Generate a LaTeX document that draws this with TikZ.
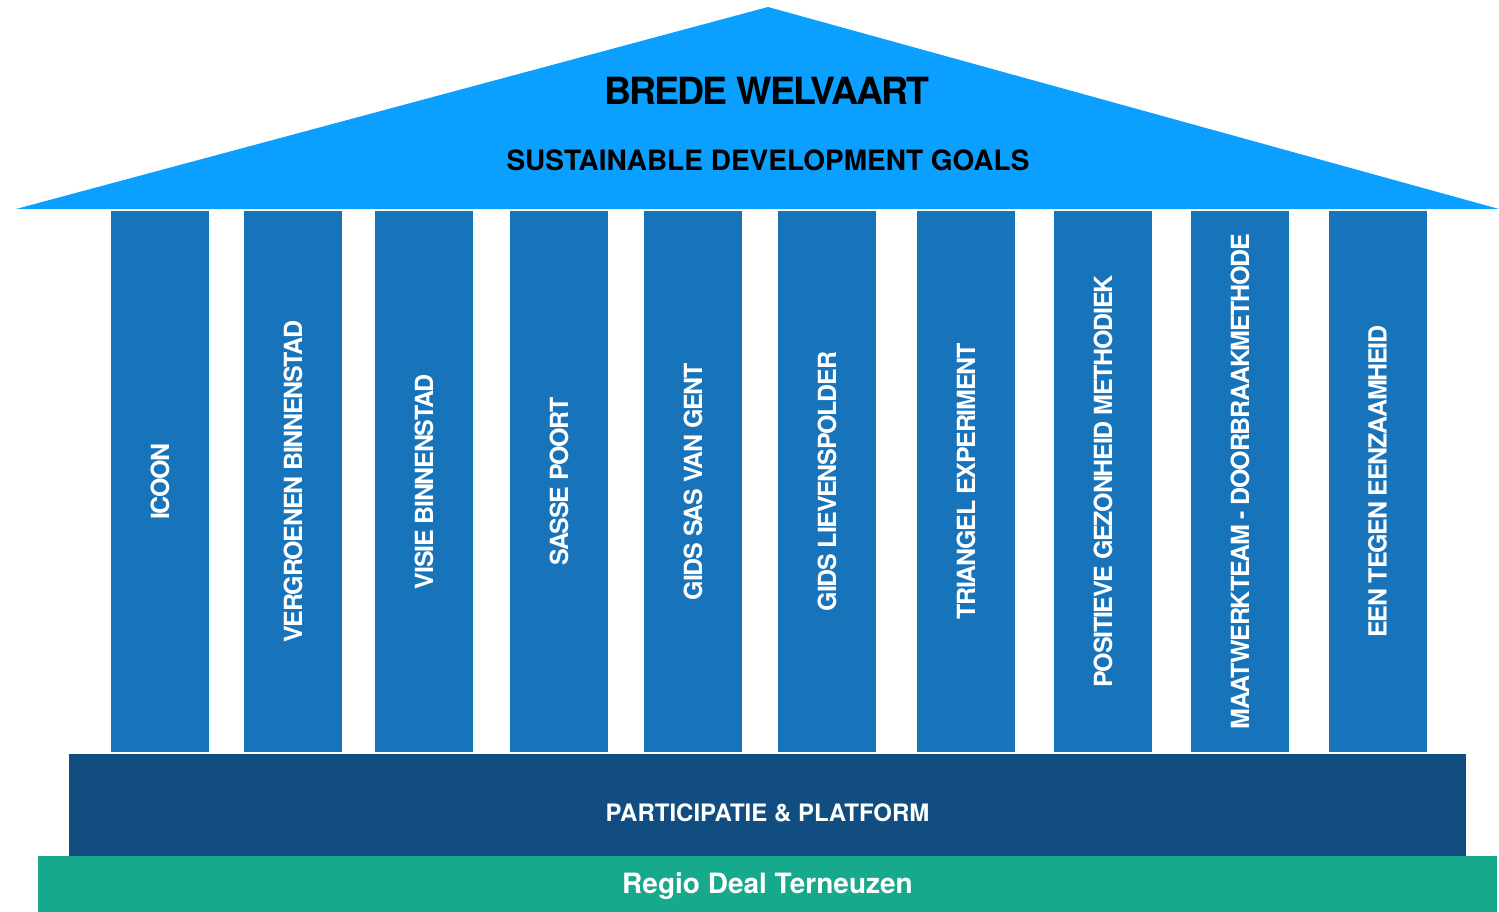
\documentclass[tikz,border=0pt]{standalone}
\usepackage{fontspec}
\setmainfont{TeX Gyre Heros}
\newfontfamily\tightheros[LetterSpace=-5]{TeX Gyre Heros}
\definecolor{roofblue}{HTML}{0BA0FF}
\definecolor{pillarblue}{HTML}{1874BA}
\definecolor{baseblue}{HTML}{114D80}
\definecolor{basegreen}{HTML}{17A98B}
\begin{document}
\begin{tikzpicture}[x=1pt,y=-1pt,
	pillar/.style={fill=pillarblue, rotate=90, minimum width=541pt, minimum height=98pt, inner sep=0pt, text=white, font=\tightheros\fontsize{25}{28}\selectfont\bfseries},
	slab/.style={inner sep=0pt, font=\fontsize{24}{28}\selectfont\bfseries, text=white}]
	\useasboundingbox (0,0) rectangle (1499,912);
%	% Roof
	\fill[roofblue] (16,209) -- (768,7) -- (1499,209) -- cycle;
	\node[font=\tightheros\fontsize{37.5}{42}\selectfont\bfseries] (title) at (767,91) {BREDE WELVAART};
	\node[font=\fontsize{28}{32}\selectfont\bfseries] (sdg) at (768,160) {SUSTAINABLE DEVELOPMENT GOALS};
%	% Pillars
	\foreach \x/\name [count=\i] in {160/ICOON, 293/VERGROENEN BINNENSTAD, 424/VISIE BINNENSTAD, 559/SASSE POORT, 693/GIDS SAS VAN GENT, 827/GIDS LIEVENSPOLDER, 966/TRIANGEL EXPERIMENT, 1103/POSITIEVE GEZONHEID METHODIEK, 1240/MAATWERKTEAM - DOORBRAAKMETHODE, 1377.5/EEN TEGEN EENZAAMHEID}
		\node[pillar] (p\i) at (\x,481.5) {\name};
%	% Base layers
	\node[fill=baseblue, minimum width=1397pt, minimum height=102pt, inner sep=0pt] (platform) at (767.5,805) {};
	\node[slab] (platformtext) at (767.5,813) {PARTICIPATIE \& PLATFORM};
	\node[fill=basegreen, minimum width=1459pt, minimum height=56pt, inner sep=0pt] (regio) at (767.5,884) {};
	\node[slab, font=\fontsize{28}{30}\selectfont\bfseries] (regiotext) at (767.5,886) {Regio Deal Terneuzen};
\end{tikzpicture}
\end{document}
